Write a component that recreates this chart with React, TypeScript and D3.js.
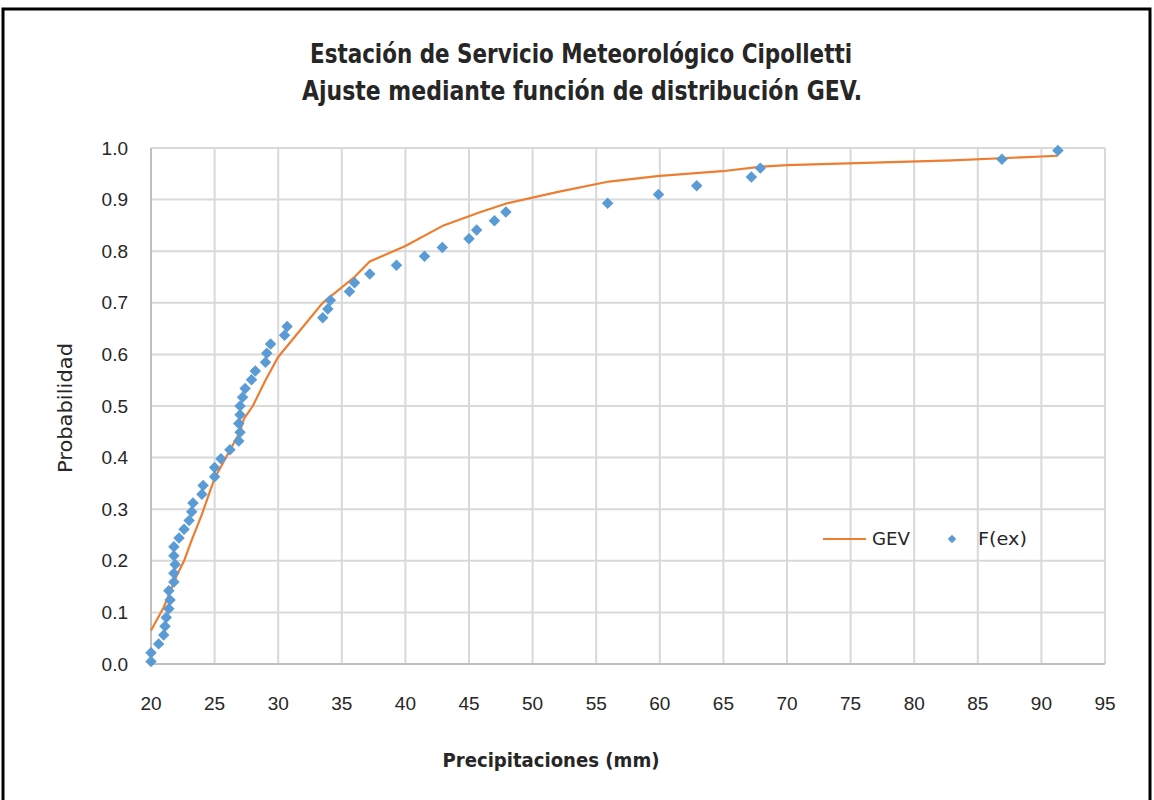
import * as d3 from 'd3';

// observed (empirical) values: precipitation and plotting probability
const obsPrecip = [
  20.0, 20.0, 20.6, 21.0, 21.1, 21.2, 21.4, 21.5, 21.4, 21.8,
  21.8, 21.9, 21.8, 21.8, 22.2, 22.6, 23.0, 23.2, 23.3, 24.0,
  24.1, 25.0, 25.0, 25.5, 26.2, 26.9, 27.0, 26.9, 27.0, 27.0,
  27.2, 27.4, 27.9, 28.2, 29.0, 29.1, 29.4, 30.5, 30.7, 33.5,
  33.9, 34.1, 35.6, 36.0, 37.2, 39.3, 41.5, 42.9, 45.0, 45.6,
  47.0, 47.9, 55.9, 59.9, 62.9, 67.2, 67.9, 86.9, 91.3,
];
const obsProb = [
  0.005, 0.022, 0.039, 0.056, 0.073, 0.09, 0.107, 0.124, 0.142, 0.159,
  0.176, 0.193, 0.21, 0.227, 0.244, 0.261, 0.278, 0.295, 0.312, 0.329,
  0.346, 0.363, 0.381, 0.398, 0.415, 0.432, 0.449, 0.466, 0.483, 0.5,
  0.517, 0.534, 0.551, 0.568, 0.585, 0.602, 0.62, 0.637, 0.654, 0.671,
  0.688, 0.705, 0.722, 0.739, 0.756, 0.773, 0.79, 0.807, 0.824, 0.841,
  0.859, 0.876, 0.893, 0.91, 0.927, 0.944, 0.961, 0.978, 0.995,
];

// fitted GEV curve
const gevPrecip = [
  20.0, 21.0, 22.0, 22.6, 23.2, 24.0, 25.0, 26.0, 27.0, 27.3,
  28.0, 29.0, 30.0, 31.0, 33.5, 36.0, 37.2, 40.0, 43.0, 45.8,
  48.0, 52.0, 56.0, 60.0, 64.9, 68.0, 70.0, 83.0, 91.3,
];
const gevProb = [
  0.065, 0.11, 0.17, 0.2, 0.24, 0.29, 0.36, 0.405, 0.45, 0.475,
  0.5, 0.55, 0.595, 0.625, 0.7, 0.75, 0.78, 0.81, 0.85, 0.875,
  0.893, 0.915, 0.935, 0.946, 0.955, 0.964, 0.967, 0.976, 0.985,
];

const xTicks = [20, 25, 30, 35, 40, 45, 50, 55, 60, 65, 70, 75, 80, 85, 90, 95];
const yTicks = [0, 0.1, 0.2, 0.3, 0.4, 0.5, 0.6, 0.7, 0.8, 0.9, 1.0];

const W = 1154;
const H = 800;
const font = "'Liberation Sans Narrow', 'DejaVu Sans Condensed', 'Liberation Sans', sans-serif";
const textColor = '#262626';

export default function App() {
  const x = d3.scaleLinear().domain([20, 95]).range([151, 1105]);
  const y = d3.scaleLinear().domain([0, 1]).range([664, 148]);

  const line = d3
    .line<number>()
    .x((d) => x(d))
    .y((_, i) => y(gevProb[i]));

  const diamond = d3.symbol(d3.symbolSquare, 66)();

  return (
    <svg
      width={W}
      height={H}
      style={{ position: 'absolute', left: 0, top: 0, background: '#fff' }}
      fontFamily={font}
    >
      <rect x={0} y={0} width={W} height={H} fill="#fff" />
      <rect x={3} y={9} width={1147} height={H} fill="none" stroke="#000" strokeWidth={3} />

      <g fontWeight="bold" fill={textColor} textAnchor="middle">
        <text x={581} y={63} fontSize={26} textLength={542} lengthAdjust="spacingAndGlyphs">
          Estación de Servicio Meteorológico Cipolletti
        </text>
        <text x={582} y={100} fontSize={26} textLength={560} lengthAdjust="spacingAndGlyphs">
          Ajuste  mediante función de distribución GEV.
        </text>
      </g>

      {/* grid */}
      <g stroke="#d9d9d9" strokeWidth={2}>
        {xTicks.map((t) => (
          <line key={'gx' + t} x1={x(t)} x2={x(t)} y1={y(1)} y2={y(0)} />
        ))}
        {yTicks.slice(1).map((t) => (
          <line key={'gy' + t} x1={x(20)} x2={x(95)} y1={y(t)} y2={y(t)} />
        ))}
      </g>
      <line x1={x(20)} x2={x(95)} y1={y(0)} y2={y(0)} stroke="#bfbfbf" strokeWidth={2} />
      <line x1={x(20)} x2={x(20)} y1={y(1)} y2={y(0)} stroke="#bfbfbf" strokeWidth={2} />

      {/* tick labels */}
      <g fontSize={19} fill={textColor} fontFamily="'Liberation Sans', sans-serif">
        {yTicks.map((t) => (
          <text key={'ty' + t} x={128} y={y(t)} dy="0.35em" textAnchor="end">
            {t.toFixed(1)}
          </text>
        ))}
        {xTicks.map((t) => (
          <text key={'tx' + t} x={x(t)} y={710} textAnchor="middle">
            {t}
          </text>
        ))}
      </g>

      {/* axis titles */}
      <text
        x={551}
        y={767}
        textAnchor="middle"
        fontSize={20}
        fontWeight="bold"
        fill={textColor}
        textLength={217}
        lengthAdjust="spacingAndGlyphs"
      >
        Precipitaciones (mm)
      </text>
      <text
        transform="translate(72,408) rotate(-90)"
        textAnchor="middle"
        fontSize={20}
        fill={textColor}
        textLength={130}
        lengthAdjust="spacingAndGlyphs"
      >
        Probabilidad
      </text>

      {/* GEV line */}
      <path d={line(gevPrecip) || ''} fill="none" stroke="#ed7d31" strokeWidth={2.2} />

      {/* observed points */}
      <g fill="#5b9bd5">
        {obsPrecip.map((v, i) => (
          <path key={'p' + i} d={diamond || ''} transform={`translate(${x(v)},${y(obsProb[i])}) rotate(45)`} />
        ))}
      </g>

      {/* legend */}
      <line x1={823} x2={866} y1={539} y2={539} stroke="#ed7d31" strokeWidth={2.2} />
      <text x={872} y={539} dy="0.35em" fontSize={18} fill={textColor} textLength={38} lengthAdjust="spacingAndGlyphs">
        GEV
      </text>
      <path d={d3.symbol(d3.symbolSquare, 36)() || ''} transform="translate(952,539) rotate(45)" fill="#5b9bd5" />
      <text x={978} y={539} dy="0.35em" fontSize={18} fill={textColor} textLength={49} lengthAdjust="spacingAndGlyphs">
        F(ex)
      </text>
    </svg>
  );
}
